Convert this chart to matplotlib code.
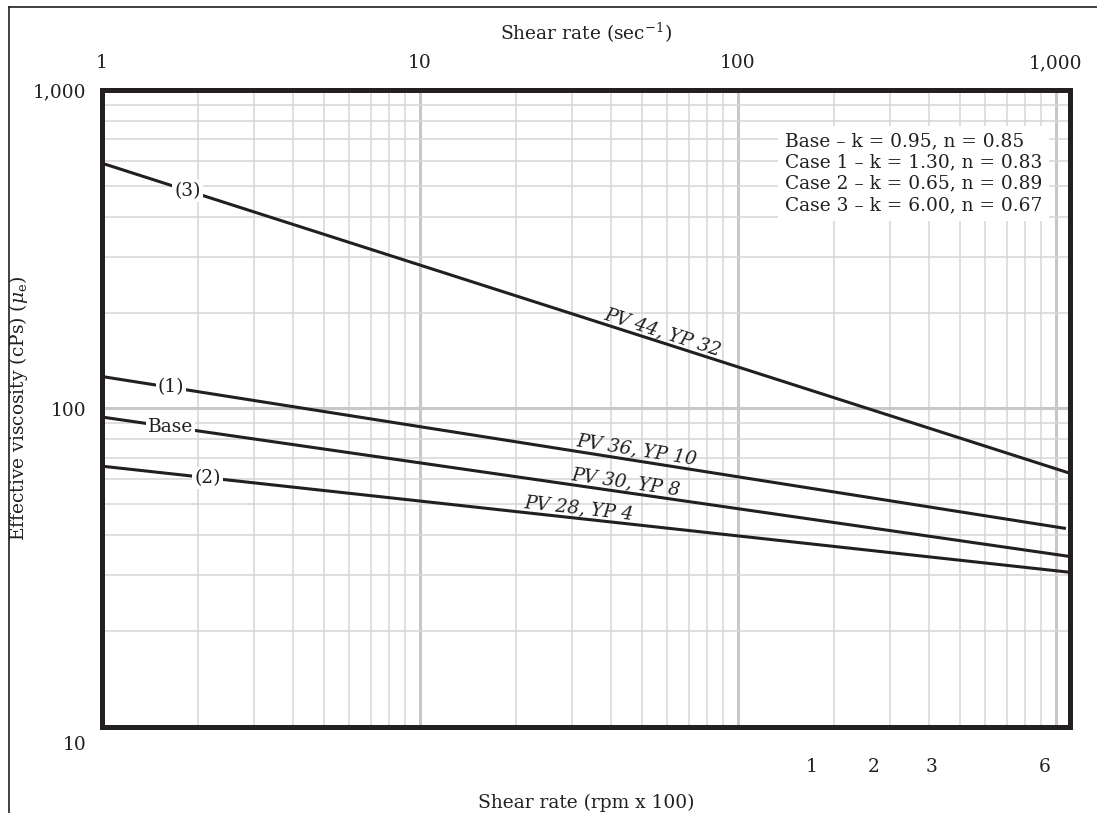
import numpy as np
import matplotlib.pyplot as plt
from matplotlib.lines import Line2D
from matplotlib.ticker import LogLocator, NullFormatter

plt.rcParams['font.family'] = ['DejaVu Serif']
plt.rcParams['mathtext.fontset'] = 'dejavuserif'

# end points of each curve: shear rate (1/sec) -> effective viscosity (cP)
shear_ends = [1, 1107]
case1_shear_ends = [1, 1075]
visc_case3 = [589, 62.6]
visc_case1 = [126, 42.0]
visc_base = [94, 34.3]
visc_case2 = [65.9, 30.6]

curve_tags = ['(3)', '(1)', 'Base', '(2)']
tag_shear = [1.86, 1.65, 1.64, 2.15]
pv_yp_labels = ['PV 44, YP 32', 'PV 36, YP 10', 'PV 30, YP 8', 'PV 28, YP 4']
pv_yp_shear = [56.9, 47.4, 44.1, 31.4]

top_ticks = [1, 10, 100, 1000]
top_tick_labels = ['1', '10', '100', '1,000']
y_ticks = [10, 100, 1000]
y_tick_labels = ['', '100', '1,000']
rpm_ticks = [170, 268, 407, 923]
rpm_labels = ['1', '2', '3', '6']

legend_lines = [
    'Base \u2013 k = 0.95, n = 0.85',
    'Case 1 \u2013 k = 1.30, n = 0.83',
    'Case 2 \u2013 k = 0.65, n = 0.89',
    'Case 3 \u2013 k = 6.00, n = 0.67',
]

ink = '#231f20'
fs = 13.4

fig = plt.figure(figsize=(10.97, 8.13), dpi=100)
ax = fig.add_axes([102 / 1097, 1 - 727 / 813, 968 / 1097, 637 / 813])
ax.set_xscale('log')
ax.set_yscale('log')
ax.set_xlim(1, 1107)
ax.set_ylim(10, 1000)

curves = [
    (shear_ends, visc_case3),
    (case1_shear_ends, visc_case1),
    (shear_ends, visc_base),
    (shear_ends, visc_case2),
]
for xs, vs in curves:
    ax.plot(xs, vs, color=ink, lw=2.2, solid_capstyle='butt', zorder=3)


def visc_at(x, xs, vs):
    return 10 ** np.interp(np.log10(x), np.log10(xs), np.log10(vs))


def slope_angle(xs, vs):
    p1 = ax.transData.transform((xs[0], vs[0]))
    p2 = ax.transData.transform((xs[1], vs[1]))
    return np.degrees(np.arctan2(p2[1] - p1[1], p2[0] - p1[0]))


# tags sitting on the lines near the left edge
for (xs, vs), tag, x in zip(curves, curve_tags, tag_shear):
    ax.text(x, visc_at(x, xs, vs), tag, ha='center', va='center', fontsize=fs,
            color=ink, zorder=4,
            bbox=dict(facecolor='white', edgecolor='none', pad=1.5))

# PV / YP labels riding on the lines
for (xs, vs), lab, x in zip(curves, pv_yp_labels, pv_yp_shear):
    ax.text(x, visc_at(x, xs, vs) * 1.01, lab, ha='center', va='bottom',
            rotation=slope_angle(xs, vs), rotation_mode='anchor',
            fontsize=fs, style='italic', color=ink, zorder=4)

ax.text(0.7056, 0.933, '\n'.join(legend_lines), transform=ax.transAxes,
        ha='left', va='top', fontsize=fs, color=ink, linespacing=1.22, zorder=4,
        bbox=dict(facecolor='white', edgecolor='none', pad=5))

# grid
ax.xaxis.set_minor_locator(LogLocator(base=10, subs=np.arange(2, 10)))
ax.yaxis.set_minor_locator(LogLocator(base=10, subs=np.arange(2, 10)))
ax.xaxis.set_minor_formatter(NullFormatter())
ax.yaxis.set_minor_formatter(NullFormatter())
ax.set_axisbelow(True)
ax.grid(which='major', color='#c8c8c8', lw=2.2)
ax.grid(which='minor', color='#d6d6d6', lw=1.1)

for sp in ax.spines.values():
    sp.set_linewidth(3.6)
    sp.set_color(ink)
    sp.set_zorder(5)

# top axis: shear rate in 1/sec
ax.xaxis.tick_top()
ax.xaxis.set_label_position('top')
ax.set_xticks(top_ticks, top_tick_labels)
ax.set_xlabel('Shear rate (sec$^{-1}$)', fontsize=fs, color=ink, labelpad=10)
ax.set_yticks(y_ticks, y_tick_labels)
ax.tick_params(which='both', length=0, labelsize=fs, colors=ink)
ax.tick_params(axis='x', pad=13)
ax.tick_params(axis='y', pad=11)
# the "10" label sits a little below the bottom edge
ax.annotate('10', xy=(0, y_ticks[0]), xycoords=('axes fraction', 'data'),
            xytext=(-11, -13), textcoords='offset points', ha='right', va='center',
            fontsize=fs, color=ink)
ax.set_ylabel('Effective viscosity (cPs) ($\\mu_\\mathregular{e}$)', fontsize=fs,
              color=ink, labelpad=2)

# bottom axis: rpm x 100
sec = ax.secondary_xaxis('bottom')
sec.set_xticks(rpm_ticks, rpm_labels)
sec.xaxis.set_minor_formatter(NullFormatter())
sec.tick_params(which='both', length=0, labelsize=fs, colors=ink, pad=22)
sec.spines['bottom'].set_visible(False)
sec.set_xlabel('Shear rate (rpm x 100)', fontsize=fs, color=ink, labelpad=13)

# thin outer frame on left and top
fig.add_artist(Line2D([9 / 1097, 9 / 1097], [0, 1 - 7 / 813],
                      transform=fig.transFigure, color=ink, lw=1.2))
fig.add_artist(Line2D([9 / 1097, 1], [1 - 7 / 813, 1 - 7 / 813],
                      transform=fig.transFigure, color=ink, lw=1.2))

fig.savefig('out.png', dpi=100)
